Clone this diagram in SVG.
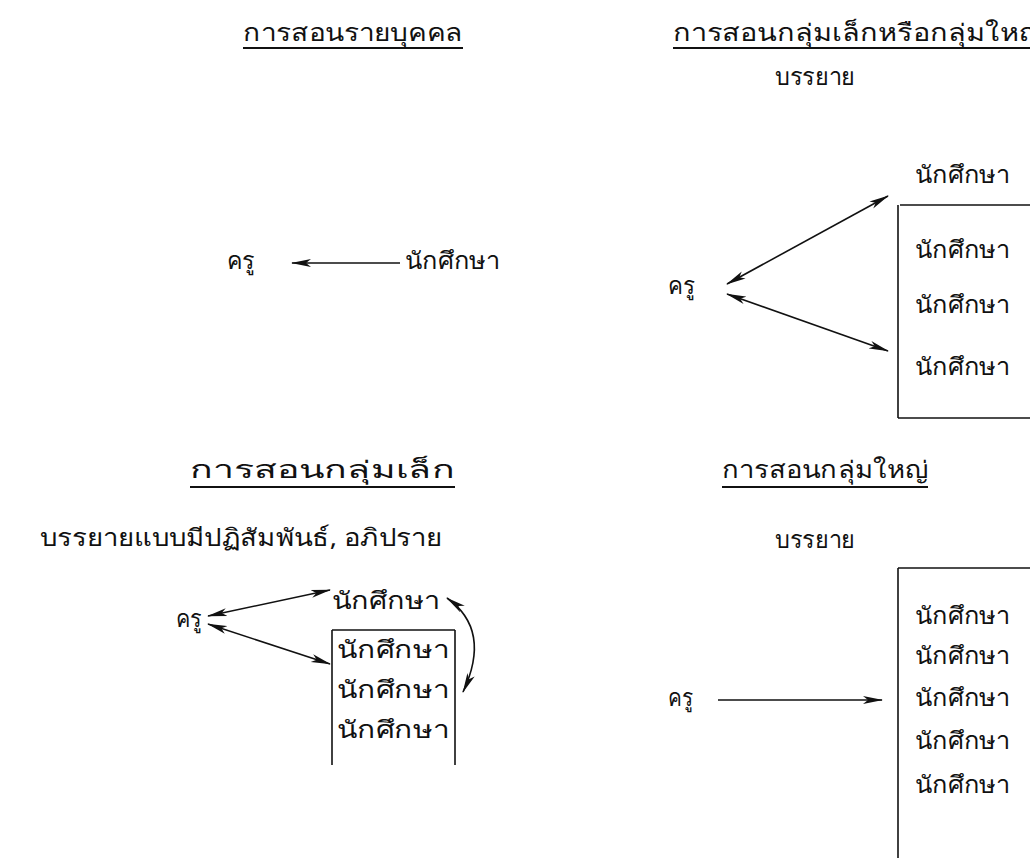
<svg xmlns="http://www.w3.org/2000/svg" width="1030" height="858" viewBox="0 0 1030 858">
<style>
text{font-family:"Noto Sans","DejaVu Sans",sans-serif;font-size:24px;fill:#111;}
.ln{stroke:#111;stroke-width:1.6;fill:none;}
.ul{stroke:#111;stroke-width:2;fill:none;}
.arr{stroke:#111;stroke-width:1.6;fill:none;marker-end:url(#ah);}
.dbl{stroke:#111;stroke-width:1.6;fill:none;marker-end:url(#ah);marker-start:url(#ah);}
</style>
<defs>
<marker id="ah" viewBox="0 0 20 10" refX="19" refY="5" markerWidth="20" markerHeight="10" markerUnits="userSpaceOnUse" orient="auto-start-reverse">
<path d="M0,1 L20,5 L0,9 L5,5 Z" fill="#111"/>
</marker>
</defs>
<rect width="1030" height="858" fill="#fff"/>

<g id="title-individual">
<text x="243" y="41" textLength="220" lengthAdjust="spacingAndGlyphs">การสอนรายบุคคล</text>
<line class="ul" x1="243" y1="48" x2="463" y2="48"/>
</g>
<g id="title-small-or-large">
<text x="673" y="41" textLength="370" lengthAdjust="spacingAndGlyphs">การสอนกลุ่มเล็กหรือกลุ่มใหญ่</text>
<line class="ul" x1="673" y1="48" x2="1030" y2="48"/>
</g>
<g id="tr-method"><text x="775" y="85" textLength="80" lengthAdjust="spacingAndGlyphs">บรรยาย</text></g>

<g id="tl-teacher"><text x="227" y="269" textLength="28" lengthAdjust="spacingAndGlyphs">ครู</text></g>
<g id="tl-student"><text x="405" y="269" textLength="95" lengthAdjust="spacingAndGlyphs">นักศึกษา</text></g>

<g id="tr-teacher"><text x="668" y="294" textLength="27" lengthAdjust="spacingAndGlyphs">ครู</text></g>
<g id="tr-students">
<text x="915" y="183" textLength="95" lengthAdjust="spacingAndGlyphs">นักศึกษา</text>
<line class="ln" x1="900" y1="205" x2="1030" y2="205"/>
<line class="ln" x1="898" y1="205" x2="898" y2="418"/>
<line class="ln" x1="898" y1="418" x2="1030" y2="418"/>
<text x="915" y="258" textLength="95" lengthAdjust="spacingAndGlyphs">นักศึกษา</text>
<text x="915" y="313" textLength="95" lengthAdjust="spacingAndGlyphs">นักศึกษา</text>
<text x="915" y="375" textLength="95" lengthAdjust="spacingAndGlyphs">นักศึกษา</text>
</g>

<g id="title-small">
<text x="190" y="478" textLength="265" lengthAdjust="spacingAndGlyphs">การสอนกลุ่มเล็ก</text>
<line class="ul" x1="190" y1="487" x2="455" y2="487"/>
</g>
<g id="bl-method"><text x="40" y="546" textLength="402" lengthAdjust="spacingAndGlyphs">บรรยายแบบมีปฏิสัมพันธ์, อภิปราย</text></g>

<g id="title-large">
<text x="722" y="478" textLength="206" lengthAdjust="spacingAndGlyphs">การสอนกลุ่มใหญ่</text>
<line class="ul" x1="722" y1="487" x2="928" y2="487"/>
</g>
<g id="br-method"><text x="775" y="548" textLength="80" lengthAdjust="spacingAndGlyphs">บรรยาย</text></g>

<g id="bl-teacher"><text x="176" y="627" textLength="26" lengthAdjust="spacingAndGlyphs">ครู</text></g>
<g id="bl-students">
<text x="332" y="609" textLength="108" lengthAdjust="spacingAndGlyphs">นักศึกษา</text>
<line class="ln" x1="332" y1="630" x2="455" y2="630"/>
<line class="ln" x1="332" y1="630" x2="332" y2="765"/>
<line class="ln" x1="455" y1="630" x2="455" y2="765"/>
<text x="337" y="658" textLength="112" lengthAdjust="spacingAndGlyphs">นักศึกษา</text>
<text x="337" y="698" textLength="112" lengthAdjust="spacingAndGlyphs">นักศึกษา</text>
<text x="337" y="738" textLength="112" lengthAdjust="spacingAndGlyphs">นักศึกษา</text>
</g>

<g id="br-teacher"><text x="668" y="706" textLength="25" lengthAdjust="spacingAndGlyphs">ครู</text></g>
<g id="br-students">
<line class="ln" x1="898" y1="568" x2="1030" y2="568"/>
<line class="ln" x1="898" y1="568" x2="898" y2="858"/>
<text x="915" y="624" textLength="95" lengthAdjust="spacingAndGlyphs">นักศึกษา</text>
<text x="915" y="664" textLength="95" lengthAdjust="spacingAndGlyphs">นักศึกษา</text>
<text x="915" y="706" textLength="95" lengthAdjust="spacingAndGlyphs">นักศึกษา</text>
<text x="915" y="749" textLength="95" lengthAdjust="spacingAndGlyphs">นักศึกษา</text>
<text x="915" y="793" textLength="95" lengthAdjust="spacingAndGlyphs">นักศึกษา</text>
</g>

<g id="connectors">
<line class="arr" x1="400" y1="263" x2="292" y2="263"/>
<line class="dbl" x1="727" y1="284" x2="888" y2="196"/>
<line class="dbl" x1="727" y1="294" x2="888" y2="351"/>
<line class="dbl" x1="208" y1="616" x2="330" y2="590"/>
<line class="dbl" x1="208" y1="624" x2="330" y2="664"/>
<path class="dbl" d="M447,598 Q492,630 463,692"/>
<line class="arr" x1="718" y1="700" x2="882" y2="700"/>
</g>
</svg>
